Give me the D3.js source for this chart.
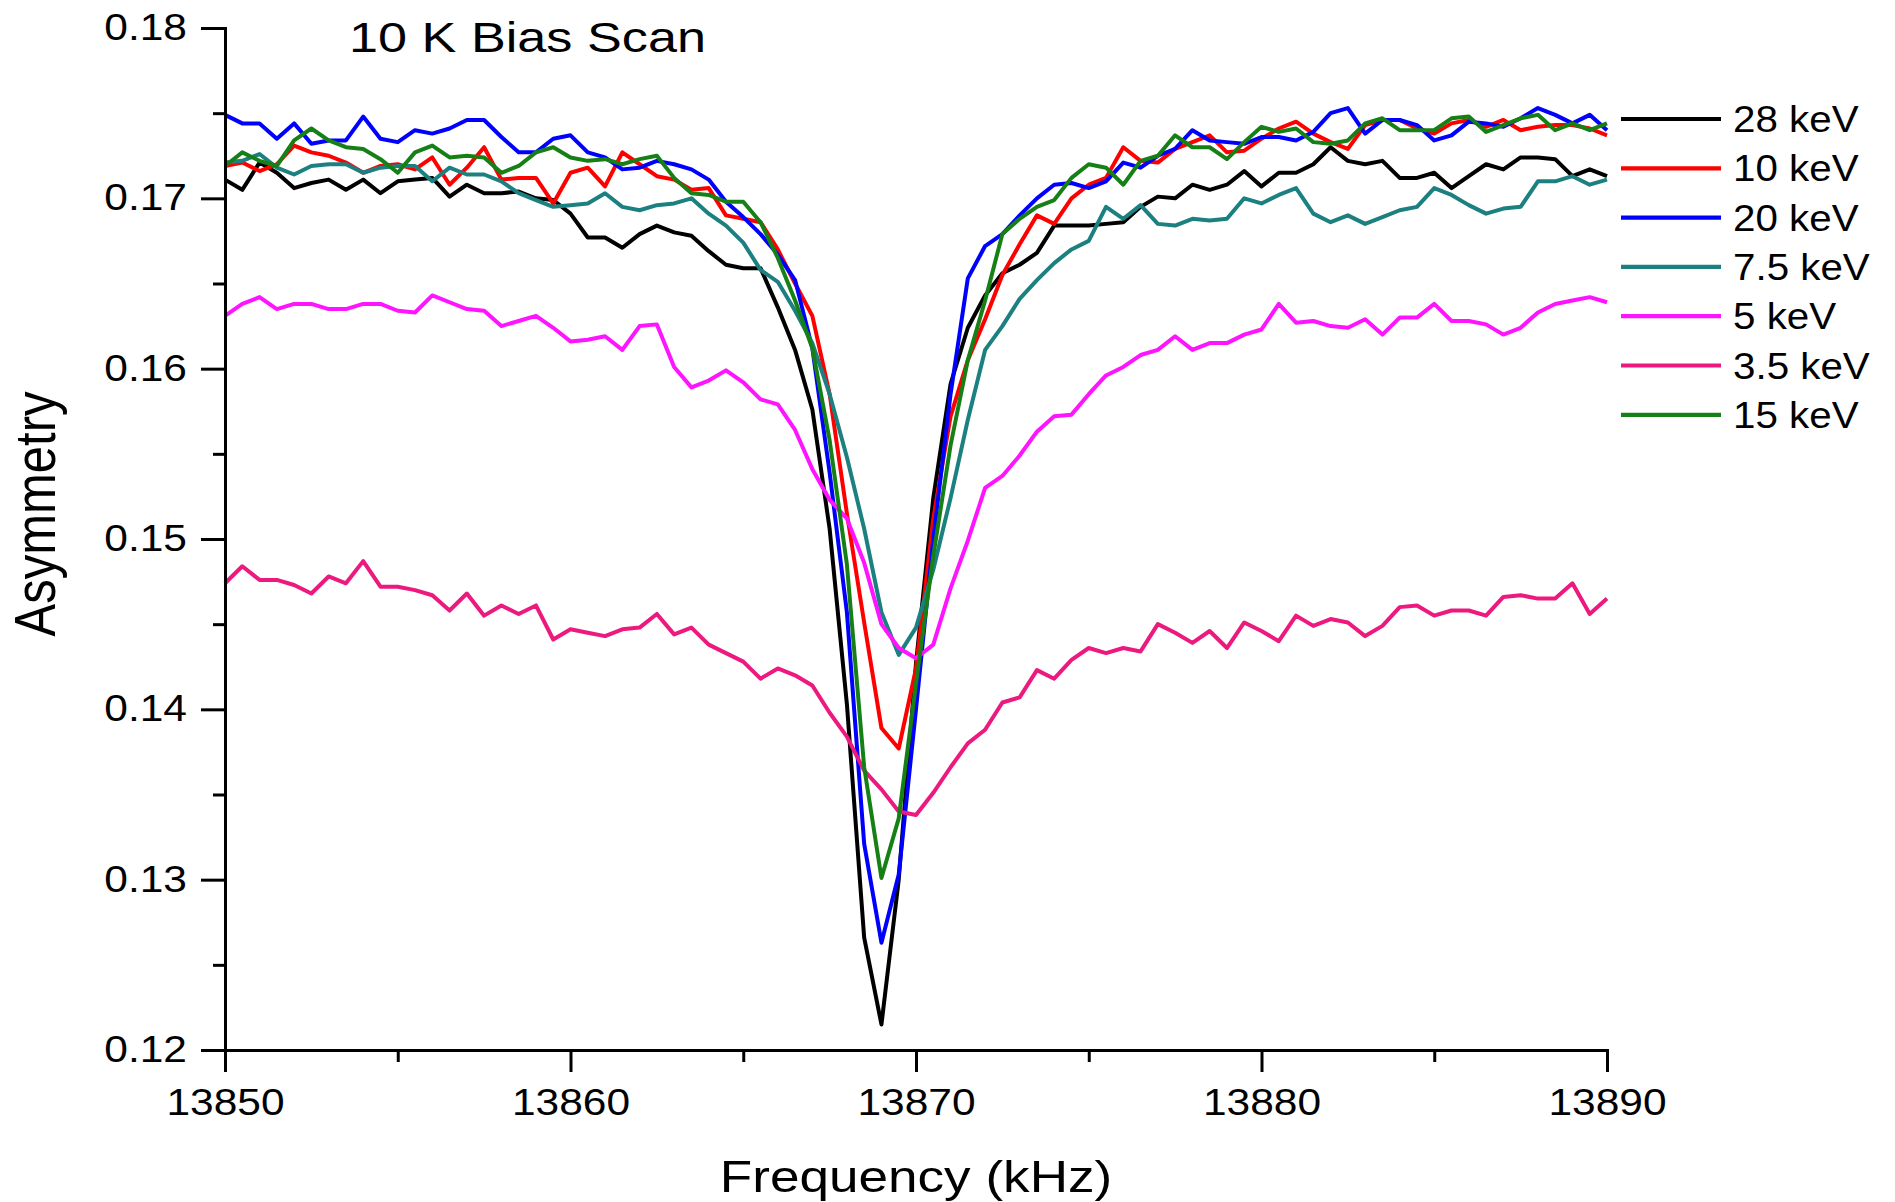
<!DOCTYPE html>
<html>
<head>
<meta charset="utf-8" />
<title>10 K Bias Scan</title>
<script src="https://cdn.jsdelivr.net/npm/d3@7"></script>
<style>
	body { margin: 0; padding: 0; background: #fff; }
	svg text { font-family: "Liberation Sans", Arial, sans-serif; fill: #000; }
</style>
</head>
<body>
<div id="chart"></div>
<script>
// frequency grid of the scan (kHz)
var freqs = [13850,13850.5,13851,13851.5,13852,13852.5,13853,13853.5,13854,13854.5,
13855,13855.5,13856,13856.5,13857,13857.5,13858,13858.5,13859,13859.5,
13860,13860.5,13861,13861.5,13862,13862.5,13863,13863.5,13864,13864.5,
13865,13865.5,13866,13866.5,13867,13867.5,13868,13868.5,13869,13869.5,
13870,13870.5,13871,13871.5,13872,13872.5,13873,13873.5,13874,13874.5,
13875,13875.5,13876,13876.5,13877,13877.5,13878,13878.5,13879,13879.5,
13880,13880.5,13881,13881.5,13882,13882.5,13883,13883.5,13884,13884.5,
13885,13885.5,13886,13886.5,13887,13887.5,13888,13888.5,13889,13889.5,
13890];

var keV28 = [0.1711,0.1705,0.1721,0.1715,0.1706,0.1709,0.1711,0.1705,0.1711,0.1703,
0.1710,0.1711,0.1712,0.1701,0.1708,0.1703,0.1703,0.1704,0.1700,0.1699,
0.1691,0.1677,0.1677,0.1671,0.1679,0.1684,0.1680,0.1678,0.1669,0.1661,
0.1659,0.1659,0.1636,0.1611,0.1576,0.1506,0.1403,0.1266,0.1215,0.1300,
0.1427,0.1524,0.1591,0.1624,0.1643,0.1656,0.1661,0.1668,0.1684,0.1684,
0.1684,0.1685,0.1686,0.1695,0.1701,0.1700,0.1708,0.1705,0.1708,0.1716,
0.1707,0.1715,0.1715,0.1720,0.1730,0.1722,0.1720,0.1722,0.1712,0.1712,
0.1715,0.1706,0.1713,0.1720,0.1717,0.1724,0.1724,0.1723,0.1713,0.1717,
0.1713];

var keV10 = [0.1719,0.1721,0.1716,0.1720,0.1731,0.1727,0.1725,0.1721,0.1715,0.1719,
0.1720,0.1717,0.1724,0.1708,0.1718,0.1730,0.1711,0.1712,0.1712,0.1697,
0.1715,0.1718,0.1707,0.1727,0.1720,0.1713,0.1711,0.1705,0.1706,0.1690,
0.1688,0.1686,0.1670,0.1650,0.1631,0.1585,0.1515,0.1451,0.1389,0.1377,
0.1424,0.1512,0.1572,0.1605,0.1629,0.1655,0.1673,0.1690,0.1685,0.1700,
0.1708,0.1712,0.1730,0.1722,0.1721,0.1729,0.1733,0.1737,0.1727,0.1728,
0.1735,0.1741,0.1745,0.1738,0.1733,0.1729,0.1743,0.1746,0.1746,0.1741,
0.1738,0.1744,0.1746,0.1742,0.1746,0.1740,0.1742,0.1743,0.1743,0.1741,
0.1737];

var keV20 = [0.1749,0.1744,0.1744,0.1735,0.1744,0.1732,0.1734,0.1734,0.1748,0.1735,
0.1733,0.1740,0.1738,0.1741,0.1746,0.1746,0.1736,0.1727,0.1727,0.1735,
0.1737,0.1727,0.1724,0.1717,0.1718,0.1722,0.1720,0.1717,0.1711,0.1698,
0.1689,0.1679,0.1667,0.1652,0.1612,0.1539,0.1457,0.1321,0.1263,0.1303,
0.1400,0.1500,0.1585,0.1653,0.1672,0.1679,0.1690,0.1700,0.1708,0.1709,
0.1706,0.1710,0.1721,0.1718,0.1725,0.1729,0.1740,0.1734,0.1733,0.1732,
0.1736,0.1736,0.1734,0.1739,0.1750,0.1753,0.1738,0.1746,0.1746,0.1743,
0.1734,0.1737,0.1745,0.1744,0.1742,0.1747,0.1753,0.1749,0.1744,0.1749,
0.1740];

var keV7_5 = [0.1721,0.1722,0.1726,0.1718,0.1714,0.1719,0.1720,0.1720,0.1715,0.1718,
0.1719,0.1719,0.1710,0.1718,0.1714,0.1714,0.1710,0.1703,0.1699,0.1695,
0.1696,0.1697,0.1703,0.1695,0.1693,0.1696,0.1697,0.1700,0.1691,0.1684,
0.1674,0.1658,0.1651,0.1634,0.1615,0.1585,0.1548,0.1506,0.1457,0.1432,
0.1448,0.1482,0.1524,0.1570,0.1611,0.1625,0.1641,0.1652,0.1662,0.1670,
0.1675,0.1695,0.1688,0.1696,0.1685,0.1684,0.1688,0.1687,0.1688,0.1700,
0.1697,0.1702,0.1706,0.1691,0.1686,0.1690,0.1685,0.1689,0.1693,0.1695,
0.1706,0.1702,0.1696,0.1691,0.1694,0.1695,0.1710,0.1710,0.1713,0.1708,
0.1711];

var keV5 = [0.1631,0.1638,0.1642,0.1635,0.1638,0.1638,0.1635,0.1635,0.1638,0.1638,
0.1634,0.1633,0.1643,0.1639,0.1635,0.1634,0.1625,0.1628,0.1631,0.1624,
0.1616,0.1617,0.1619,0.1611,0.1625,0.1626,0.1601,0.1589,0.1593,0.1599,
0.1592,0.1582,0.1579,0.1564,0.1541,0.1523,0.1512,0.1486,0.1450,0.1436,
0.1430,0.1438,0.1471,0.1499,0.1530,0.1537,0.1549,0.1563,0.1572,0.1573,
0.1585,0.1596,0.1601,0.1608,0.1611,0.1619,0.1611,0.1615,0.1615,0.1620,
0.1623,0.1638,0.1627,0.1628,0.1625,0.1624,0.1629,0.1620,0.1630,0.1630,
0.1638,0.1628,0.1628,0.1626,0.1620,0.1624,0.1633,0.1638,0.1640,0.1642,
0.1639];

var keV3_5 = [0.1474,0.1484,0.1476,0.1476,0.1473,0.1468,0.1478,0.1474,0.1487,0.1472,
0.1472,0.1470,0.1467,0.1458,0.1468,0.1455,0.1461,0.1456,0.1461,0.1441,
0.1447,0.1445,0.1443,0.1447,0.1448,0.1456,0.1444,0.1448,0.1438,0.1433,
0.1428,0.1418,0.1424,0.1420,0.1414,0.1398,0.1384,0.1364,0.1353,0.1340,
0.1338,0.1351,0.1366,0.1380,0.1388,0.1404,0.1407,0.1423,0.1418,0.1429,
0.1436,0.1433,0.1436,0.1434,0.1450,0.1445,0.1439,0.1446,0.1436,0.1451,
0.1446,0.1440,0.1455,0.1449,0.1453,0.1451,0.1443,0.1449,0.1460,0.1461,
0.1455,0.1458,0.1458,0.1455,0.1466,0.1467,0.1465,0.1465,0.1474,0.1456,
0.1465];

var keV15 = [0.1719,0.1727,0.1722,0.1719,0.1734,0.1741,0.1734,0.1730,0.1729,0.1723,
0.1715,0.1727,0.1731,0.1724,0.1725,0.1724,0.1715,0.1719,0.1727,0.1730,
0.1724,0.1722,0.1723,0.1720,0.1723,0.1725,0.1712,0.1703,0.1702,0.1698,
0.1698,0.1686,0.1665,0.1640,0.1612,0.1558,0.1485,0.1366,0.1301,0.1336,
0.1415,0.1490,0.1555,0.1605,0.1640,0.1679,0.1688,0.1695,0.1699,0.1712,
0.1720,0.1718,0.1708,0.1722,0.1725,0.1737,0.1730,0.1730,0.1723,0.1733,
0.1742,0.1739,0.1741,0.1733,0.1732,0.1734,0.1744,0.1747,0.1740,0.1740,
0.1740,0.1747,0.1748,0.1739,0.1743,0.1747,0.1749,0.1740,0.1744,0.1740,
0.1744];

var seriesNames = ["28 keV", "10 keV", "20 keV", "7.5 keV", "5 keV", "3.5 keV", "15 keV"];
var seriesColors = ["#000000", "#ff0000", "#0000ff", "#1c8080", "#ff14ff", "#ec1a7e", "#168016"];
var seriesValues = [keV28, keV10, keV20, keV7_5, keV5, keV3_5, keV15];

var yTicks = [0.12, 0.13, 0.14, 0.15, 0.16, 0.17, 0.18];
var yMinor = [0.125, 0.135, 0.145, 0.155, 0.165, 0.175];
var xTicks = [13850, 13860, 13870, 13880, 13890];
var xMinor = [13855, 13865, 13875, 13885];

var W = 1895, H = 1202;
// plot box (window.top is reserved, so no plain "top")
var plotL = 225, plotT = 28, plotR = 1607, plotB = 1050;
var stretch = 1.18; // lettering in the original is a bit wide

var svg = d3.select("#chart").append("svg")
    .attr("width", W)
    .attr("height", H)
    .style("display", "block");

svg.append("rect").attr("width", W).attr("height", H).attr("fill", "#fff");

var x = d3.scaleLinear().domain([13850, 13890]).range([plotL, plotR]);
var y = d3.scaleLinear().domain([0.12, 0.18]).range([plotB, plotT]);

// widen a text the way the picture does
function widen(sel, k) {
    k = k || stretch;
    sel.each(function() {
        var w = this.getComputedTextLength();
        d3.select(this).attr("textLength", w * k).attr("lengthAdjust", "spacingAndGlyphs");
    });
}

// data lines
var line = d3.line()
    .x(function(d, i) { return x(freqs[i]); })
    .y(function(d) { return y(d); });

for (var s = 0; s < seriesValues.length; s++) {
    svg.append("path")
        .attr("d", line(seriesValues[s]))
        .attr("fill", "none")
        .attr("stroke", seriesColors[s])
        .attr("stroke-width", 4)
        .attr("stroke-linejoin", "round");
}

// axes
svg.append("g")
    .attr("transform", "translate(" + plotL + ",0)")
    .call(d3.axisLeft(y).tickValues(yTicks).tickSize(24).tickSizeOuter(0).tickPadding(14)
        .tickFormat(d3.format(".2f")));
svg.append("g")
    .attr("transform", "translate(" + plotL + ",0)")
    .call(d3.axisLeft(y).tickValues(yMinor).tickSize(12).tickSizeOuter(0).tickFormat(""))
    .select(".domain").remove();

svg.append("g")
    .attr("transform", "translate(0," + plotB + ")")
    .call(d3.axisBottom(x).tickValues(xTicks).tickSize(22).tickSizeOuter(0).tickPadding(17)
        .tickFormat(d3.format("d")));
svg.append("g")
    .attr("transform", "translate(0," + plotB + ")")
    .call(d3.axisBottom(x).tickValues(xMinor).tickSize(12).tickSizeOuter(0).tickFormat(""))
    .select(".domain").remove();

svg.selectAll(".domain").attr("stroke", "#000").attr("stroke-width", 3).attr("stroke-linecap", "square");
svg.selectAll(".tick line").attr("stroke", "#000").attr("stroke-width", 3);
svg.selectAll(".tick text")
    .attr("font-size", 36)
    .attr("font-family", "Liberation Sans, Arial, sans-serif")
    .attr("fill", "#000")
    .call(widen);

// titles
svg.append("text")
    .attr("x", 349).attr("y", 52)
    .attr("font-size", 43)
    .attr("textLength", 357)
    .attr("lengthAdjust", "spacingAndGlyphs")
    .text("10 K Bias Scan");

svg.append("text")
    .attr("x", (plotL + plotR) / 2).attr("y", 1192)
    .attr("text-anchor", "middle")
    .attr("font-size", 45)
    .text("Frequency (kHz)")
    .call(widen);

svg.append("text")
    .attr("transform", "translate(55,514) scale(" + stretch + ",1) rotate(-90)")
    .attr("text-anchor", "middle")
    .attr("font-size", 49)
    .text("Asymmetry");

// legend
var legend = svg.append("g").attr("transform", "translate(1621,119)");
for (var k = 0; k < seriesNames.length; k++) {
    var row = legend.append("g").attr("transform", "translate(0," + (k * 49.3) + ")");
    row.append("line")
        .attr("x1", 0).attr("x2", 100)
        .attr("y1", 0).attr("y2", 0)
        .attr("stroke", seriesColors[k])
        .attr("stroke-width", 4.2);
    row.append("text")
        .attr("x", 112).attr("y", 13)
        .attr("font-size", 36)
        .text(seriesNames[k])
        .call(widen, 1.12);
}
</script>
</body>
</html>
